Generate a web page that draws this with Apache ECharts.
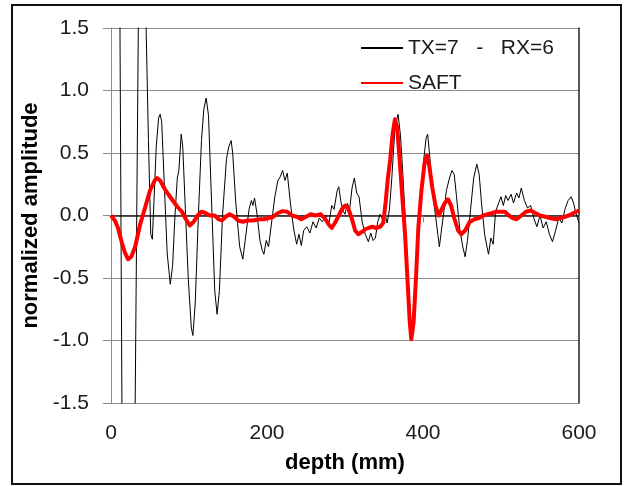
<!DOCTYPE html>
<html>
<head>
<meta charset="utf-8">
<script src="https://cdn.jsdelivr.net/npm/echarts@6/dist/echarts.min.js"></script>
<style>
html,body{margin:0;padding:0;background:#fff;}
#chart{width:624px;height:486px;}
</style>
</head>
<body>
<div id="chart"></div>
<script>
// ---- data (depth in mm, normalized amplitude) ----
var blackDepth = [0,5,8,10.5,15,18,22,26,29,33,37,40,43,45,48,51,53,55,58,61,63,65,68,72,76,79,82,85,87,90,92,95,99,103,105,108,112,116,119,122,125,129,133,136,139,143,148,151,154,156,160,165,169,173,177,180,182,184,187,191,194,196,199,202,206,210,214,217,220,223,226,230,234,238,241,244,247,251,255,259,263,267,271,275,279,283,286,290,292,295,298,300,303,306,309,312,315,318,322,326,330,333,336,339,342,345,348,351,354,357,360,364,368,371,374,377,380,383,386,389,393,397,401,404,406,409,412,416,419,421,424,427,430,434,437,440,443,447,451,454,457,461,465,469,472,475,479,482,484,487,490,493,497,500,503,506,509,513,516,520,523,526,530,534,538,542,546,550,554,558,562,566,570,574,578,582,586,590,593,596,600];
var blackAmp = [3.0,3.5,3.5,2.7,-2.7,-3.5,-3.8,-3.5,-3.0,0.0,3.0,3.5,2.8,1.5,0.6,-0.15,-0.19,0.1,0.55,0.78,0.81,0.75,0.3,-0.3,-0.55,-0.4,0.0,0.3,0.36,0.65,0.55,0.1,-0.5,-0.9,-0.96,-0.7,0.0,0.6,0.85,0.94,0.8,0.1,-0.6,-0.79,-0.6,0.0,0.45,0.55,0.6,0.5,0.1,-0.25,-0.35,-0.15,0.05,0.12,0.08,0.14,0.02,-0.2,-0.28,-0.31,-0.2,-0.25,-0.05,0.15,0.28,0.31,0.36,0.28,0.34,0.1,-0.1,-0.23,-0.15,-0.24,-0.12,-0.09,-0.14,-0.05,-0.1,-0.02,-0.05,0.0,-0.08,0.08,0.05,0.2,0.23,0.1,0.03,0.01,0.1,0.05,0.22,0.3,0.18,0.15,-0.05,-0.15,-0.21,-0.14,-0.2,-0.18,-0.05,0.01,-0.03,0.02,-0.06,0.05,0.3,0.7,0.81,0.65,0.35,0.0,-0.5,-0.85,-0.95,-0.75,-0.3,0.1,0.45,0.62,0.65,0.45,0.2,0.0,-0.15,-0.25,-0.1,0.04,0.2,0.3,0.36,0.33,0.15,-0.1,-0.25,-0.33,-0.2,0.05,0.3,0.41,0.33,0.1,-0.15,-0.25,-0.31,-0.18,-0.23,0.03,0.1,0.15,0.08,0.16,0.12,0.17,0.1,0.18,0.14,0.22,0.12,0.06,0.08,-0.02,-0.09,0.0,-0.1,-0.05,-0.15,-0.21,-0.12,-0.02,-0.06,0.05,0.12,0.15,0.1,0.02,-0.06];
var saftDepth = [0,5,9,14,18,22,26,31,37,44,50,56,59,63,70,78,85,91,96,101,106,111,116,121,127,133,138,142,147,152,158,163,169,175,182,190,196,202,208,214,220,226,232,238,244,250,256,262,269,275,280,283,287,292,296,300,304,309,313,317,322,326,330,335,340,345,349,352,355,358,361,364,367,370,374,377,380,383,385,388,391,394,398,402,405,408,412,416,420,424,428,432,436,440,445,449,454,460,466,472,477,483,489,494,500,505,510,515,520,526,532,538,544,550,557,563,570,576,582,587,593,600];
var saftAmp = [0,-0.04,-0.1,-0.22,-0.3,-0.35,-0.33,-0.25,-0.08,0.07,0.2,0.28,0.3,0.28,0.2,0.13,0.07,0.03,-0.03,-0.08,-0.05,0.0,0.03,0.02,0.0,0.0,-0.03,-0.04,-0.01,0.01,-0.01,-0.04,-0.05,-0.04,-0.04,-0.03,-0.03,-0.02,-0.01,0.02,0.035,0.03,0.0,-0.01,-0.03,-0.01,0.01,0.0,0.01,-0.03,-0.08,-0.1,-0.06,0.0,0.05,0.08,0.06,-0.03,-0.12,-0.15,-0.13,-0.11,-0.1,-0.09,-0.1,-0.09,-0.06,0.1,0.3,0.45,0.65,0.77,0.7,0.45,0.1,-0.15,-0.5,-0.85,-0.99,-0.85,-0.5,-0.1,0.2,0.42,0.48,0.4,0.22,0.08,0.0,0.05,0.1,0.13,0.08,-0.02,-0.12,-0.15,-0.12,-0.05,-0.03,-0.02,0.0,0.01,0.02,0.03,0.03,0.03,0.0,-0.02,-0.03,0.0,0.03,0.04,0.02,0.0,-0.01,-0.02,-0.03,-0.02,-0.01,0.0,0.02,0.04];
var seriesNames = ['TX=7   -   RX=6', 'SAFT'];
var xTitle = 'depth (mm)';
var yTitle = 'normalized amplitude';

function pairs(xs, ys){ return xs.map(function(x,i){ return [x, ys[i]]; }); }

var FONT = '"Liberation Sans", Arial, sans-serif';
var chart = echarts.init(document.getElementById('chart'), null, {renderer:'canvas'});
chart.setOption({
  animation: false,
  backgroundColor: '#ffffff',
  grid: {left: 111, right: 45, top: 28, bottom: 83, containLabel: false},
  graphic: [{
    type: 'rect', silent: true, z: 100,
    shape: {x: 12, y: 5, width: 609, height: 479},
    style: {fill: 'none', stroke: '#111', lineWidth: 2}
  }],
  legend: {
    orient: 'vertical', left: 355, top: 31,
    itemWidth: 42, itemHeight: 14, itemGap: 11,
    itemStyle: {opacity: 0},
    textStyle: {fontFamily: FONT, fontSize: 21, color: '#1a1a1a', lineHeight: 24},
    data: seriesNames
  },
  xAxis: [{
    type: 'value', min: 0, max: 600, interval: 200,
    name: xTitle, nameLocation: 'middle', nameGap: 49,
    nameTextStyle: {fontFamily: FONT, fontSize: 22, fontWeight: 'bold', color: '#000'},
    axisLine: {show: true, lineStyle: {color: '#8c8c8c', width: 1}},
    axisTick: {show: true, length: 7, lineStyle: {color: '#8c8c8c'}},
    axisLabel: {fontFamily: FONT, fontSize: 21, color: '#1a1a1a', margin: 20},
    splitLine: {show: false}
  }, {
    type: 'value', min: 0, max: 600, position: 'top',
    axisLine: {show: true, lineStyle: {color: '#222', width: 1.5}},
    axisTick: {show: false}, axisLabel: {show: false}, splitLine: {show: false}
  }],
  yAxis: [{
    type: 'value', min: -1.5, max: 1.5, interval: 0.5,
    name: yTitle, nameLocation: 'middle', nameGap: 67,
    nameTextStyle: {fontFamily: FONT, fontSize: 22, fontWeight: 'bold', color: '#000'},
    axisLine: {show: true, onZero: false, lineStyle: {color: '#8c8c8c', width: 1}},
    axisTick: {show: true, length: 8, lineStyle: {color: '#8c8c8c'}},
    axisLabel: {fontFamily: FONT, fontSize: 21, color: '#1a1a1a', margin: 22,
      formatter: function(v){ return v.toFixed(1); }},
    splitLine: {show: true, lineStyle: {color: '#8c8c8c', width: 1}}
  }, {
    type: 'value', min: -1.5, max: 1.5, position: 'right',
    axisLine: {show: true, onZero: false, lineStyle: {color: '#222', width: 1.5}},
    axisTick: {show: false}, axisLabel: {show: false}, splitLine: {show: false}
  }],
  series: [{
    name: seriesNames[0], type: 'line', xAxisIndex: 0, yAxisIndex: 0,
    data: pairs(blackDepth, blackAmp),
    symbol: 'none', showSymbol: false, clip: true, z: 2,
    lineStyle: {color: '#000', width: 1},
    itemStyle: {color: '#000'}
  }, {
    name: seriesNames[1], type: 'line', xAxisIndex: 0, yAxisIndex: 0,
    data: pairs(saftDepth, saftAmp),
    symbol: 'none', showSymbol: false, clip: true, z: 3,
    lineStyle: {color: '#ff0000', width: 4, join: 'round'},
    itemStyle: {color: '#ff0000'}
  }]
});
</script>
</body>
</html>
